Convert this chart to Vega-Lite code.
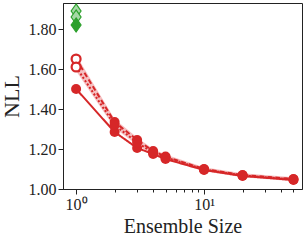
{
  "$schema": "https://vega.github.io/schema/vega-lite/v6.json",
  "width": 239,
  "height": 186,
  "autosize": {"type": "none"},
  "padding": {"left": 63, "top": 3, "right": 6, "bottom": 53},
  "config": {
    "font": "Liberation Serif",
    "view": {"stroke": "#222", "strokeWidth": 1},
    "axis": {"labelFont": "Liberation Serif", "titleFont": "Liberation Serif", "labelColor": "#222", "titleColor": "#222", "domainColor": "#222", "tickColor": "#222", "grid": false, "titleFontWeight": "normal"}
  },
  "datasets": {
    "lines": [
      {"x": 1, "y": 1.50, "s": "A"}, {"x": 2, "y": 1.285, "s": "A"}, {"x": 3, "y": 1.205, "s": "A"}, {"x": 4, "y": 1.175, "s": "A"}, {"x": 5, "y": 1.15, "s": "A"}, {"x": 10, "y": 1.095, "s": "A"}, {"x": 20, "y": 1.065, "s": "A"}, {"x": 50, "y": 1.045, "s": "A"},
      {"x": 1, "y": 1.65, "s": "B"}, {"x": 2, "y": 1.335, "s": "B"}, {"x": 3, "y": 1.245, "s": "B"}, {"x": 4, "y": 1.19, "s": "B"}, {"x": 5, "y": 1.162, "s": "B"}, {"x": 10, "y": 1.10, "s": "B"}, {"x": 20, "y": 1.07, "s": "B"}, {"x": 50, "y": 1.05, "s": "B"},
      {"x": 1, "y": 1.61, "s": "C"}, {"x": 2, "y": 1.32, "s": "C"}, {"x": 3, "y": 1.232, "s": "C"}, {"x": 4, "y": 1.182, "s": "C"}, {"x": 5, "y": 1.158, "s": "C"}, {"x": 10, "y": 1.098, "s": "C"}, {"x": 20, "y": 1.068, "s": "C"}, {"x": 50, "y": 1.048, "s": "C"}
    ],
    "band": [
      {"x": 1, "lo": 1.59, "hi": 1.67}, {"x": 2, "lo": 1.305, "hi": 1.35}, {"x": 3, "lo": 1.22, "hi": 1.257}, {"x": 4, "lo": 1.171, "hi": 1.2}, {"x": 5, "lo": 1.147, "hi": 1.173}, {"x": 10, "lo": 1.089, "hi": 1.109}, {"x": 20, "lo": 1.059, "hi": 1.079}, {"x": 50, "lo": 1.039, "hi": 1.059}
    ],
    "diam": [
      {"x": 1, "y": 1.89, "k": "h"}, {"x": 1, "y": 1.86, "k": "h"}, {"x": 1, "y": 1.82, "k": "s"}
    ],
    "minor": [
      {"x": 2}, {"x": 3}, {"x": 4}, {"x": 5}, {"x": 6}, {"x": 7}, {"x": 8}, {"x": 9}, {"x": 20}, {"x": 30}, {"x": 40}, {"x": 50}
    ]
  },
  "layer": [
    {
      "layer": [
        {
          "data": {"name": "band"},
          "mark": {"type": "area", "color": "#f2a9ab", "opacity": 0.75},
          "encoding": {
            "x": {"field": "x", "type": "quantitative", "scale": {"type": "log", "domain": [0.79, 58.3], "nice": false},
              "axis": {"values": [1, 10], "labelExpr": "datum.value == 1 ? '10⁰' : '10¹'", "labelFontSize": 16, "tickSize": 5, "labelPadding": 2, "title": "Ensemble Size", "titleFontSize": 20, "titlePadding": 4}},
            "y": {"field": "lo", "type": "quantitative", "scale": {"domain": [1.0, 1.93], "nice": false, "zero": false},
              "axis": {"values": [1.0, 1.2, 1.4, 1.6, 1.8], "format": ".2f", "labelFontSize": 16, "tickSize": 5, "labelPadding": 2, "title": "NLL", "titleFontSize": 22, "titlePadding": 5}},
            "y2": {"field": "hi"}
          }
        },
        {
          "data": {"name": "lines"},
          "mark": {"type": "line", "color": "#d62728", "strokeWidth": 2},
          "encoding": {
            "x": {"field": "x", "type": "quantitative"},
            "y": {"field": "y", "type": "quantitative"},
            "detail": {"field": "s"},
            "strokeDash": {"field": "s", "type": "nominal", "scale": {"domain": ["A", "B", "C"], "range": [[1, 0], [5, 3], [2, 2]]}, "legend": null}
          }
        },
        {
          "data": {"name": "lines"},
          "transform": [{"filter": "datum.x > 1 || datum.s == 'A'"}],
          "mark": {"type": "circle", "color": "#d62728", "size": 100, "opacity": 1},
          "encoding": {
            "x": {"field": "x", "type": "quantitative"},
            "y": {"field": "y", "type": "quantitative"}
          }
        },
        {
          "data": {"name": "lines"},
          "transform": [{"filter": "datum.x == 1 && datum.s != 'A'"}],
          "mark": {"type": "point", "shape": "circle", "filled": false, "fill": "white", "fillOpacity": 1, "stroke": "#d62728", "strokeWidth": 2.2, "size": 80, "opacity": 1},
          "encoding": {
            "x": {"field": "x", "type": "quantitative"},
            "y": {"field": "y", "type": "quantitative"}
          }
        },
        {
          "data": {"name": "diam"},
          "mark": {"type": "point", "shape": "M0,-1L0.7,0L0,1L-0.7,0Z", "size": 200, "stroke": "#2ca02c", "strokeWidth": 1.2, "opacity": 1},
          "encoding": {
            "x": {"field": "x", "type": "quantitative"},
            "y": {"field": "y", "type": "quantitative"},
            "fill": {"field": "k", "type": "nominal", "scale": {"domain": ["h", "s"], "range": ["#a6d8a6", "#2ca02c"]}, "legend": null}
          }
        }
      ]
    },
    {
      "data": {"name": "minor"},
      "mark": {"type": "rule", "opacity": 0},
      "encoding": {
        "x": {"field": "x", "type": "quantitative", "scale": {"type": "log", "domain": [0.79, 58.3], "nice": false},
          "axis": {"orient": "bottom", "values": [2, 3, 4, 5, 6, 7, 8, 9, 20, 30, 40, 50], "labels": false, "tickSize": 3, "domain": false, "title": null}}
      }
    }
  ],
  "resolve": {"axis": {"x": "independent"}}
}
